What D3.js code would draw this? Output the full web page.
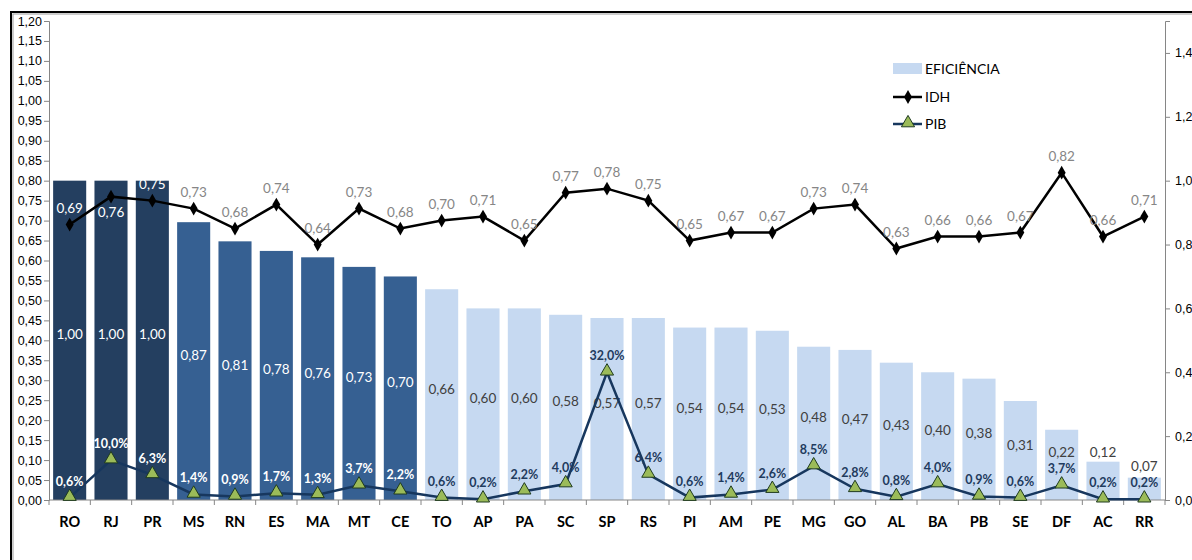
<!DOCTYPE html>
<html>
<head>
<meta charset="utf-8">
<script src="https://cdn.jsdelivr.net/npm/d3@7"></script>
<style>
  body { margin: 0; background: #fff; overflow: hidden; }
  svg { display: block; font-family: Lato, "Open Sans", sans-serif; }
</style>
</head>
<body>
<div id="chart"></div>
<script>
const states = ["RO","RJ","PR","MS","RN","ES","MA","MT","CE","TO","AP","PA","SC","SP","RS","PI","AM","PE","MG","GO","AL","BA","PB","SE","DF","AC","RR"];
const eficiencia = [1.00,1.00,1.00,0.87,0.81,0.78,0.76,0.73,0.70,0.66,0.60,0.60,0.58,0.57,0.57,0.54,0.54,0.53,0.48,0.47,0.43,0.40,0.38,0.31,0.22,0.12,0.07];
const idh = [0.69,0.76,0.75,0.73,0.68,0.74,0.64,0.73,0.68,0.70,0.71,0.65,0.77,0.78,0.75,0.65,0.67,0.67,0.73,0.74,0.63,0.66,0.66,0.67,0.82,0.66,0.71];
const pib = [0.6,10.0,6.3,1.4,0.9,1.7,1.3,3.7,2.2,0.6,0.2,2.2,4.0,32.0,6.4,0.6,1.4,2.6,8.5,2.8,0.8,4.0,0.9,0.6,3.7,0.2,0.2];
const leftTicks = d3.range(0, 1.2001, 0.05);
const rightTicks = d3.range(0, 1.4001, 0.2);
const idhBelow = new Set(["RJ"]);

const W = 1192, H = 560;
const mLeft = 49, mRight = 1165, mTop = 21, mBottom = 500;

const svg = d3.select("#chart").append("svg")
    .attr("width", W)
    .attr("height", H);

// frame
svg.append("rect")
    .attr("x", 11).attr("y", 12)
    .attr("width", W + 20).attr("height", H + 20)
    .attr("fill", "none").attr("stroke", "#000").attr("stroke-width", 2);
svg.append("rect")
    .attr("x", 13).attr("y", 14)
    .attr("width", W + 20).attr("height", H + 20)
    .attr("fill", "none").attr("stroke", "#9a9a9a").attr("stroke-width", 1);

const x = d3.scaleBand().domain(states).range([mLeft, mRight]).paddingInner(0.2).paddingOuter(0.1);
const yL = d3.scaleLinear().domain([0, 1.2]).range([mBottom, mTop]);
const yR = d3.scaleLinear().domain([0, 1.5]).range([mBottom, mTop]);
const fmt2 = d => d3.format(".2f")(d).replace(".", ",");
const fmt1 = d => d3.format(".1f")(d).replace(".", ",");
const fmtPct = d => fmt1(d) + "%";
const cx = d => x(d) + x.bandwidth() / 2;

function barColor(i) {
    if (i < 3) return "#243F60";
    if (i < 9) return "#366092";
    return "#C6D9F1";
}

// axes
const axL = svg.append("g")
    .attr("transform", `translate(${mLeft},0)`)
    .call(d3.axisLeft(yL).tickValues(leftTicks).tickFormat(fmt2).tickSize(5).tickPadding(2));
const axR = svg.append("g")
    .attr("transform", `translate(${mRight},0)`)
    .call(d3.axisRight(yR).tickValues(rightTicks).tickFormat(fmt1).tickSize(5).tickPadding(5));
[axL, axR].forEach(a => {
    a.select(".domain").attr("stroke", "#868686");
    a.selectAll(".tick line").attr("stroke", "#868686");
    a.selectAll(".tick text").attr("fill", "#000").style("font-size", "12.5px");
});

// bars
svg.append("g").selectAll("rect")
    .data(states)
    .join("rect")
    .attr("x", d => x(d))
    .attr("width", x.bandwidth())
    .attr("y", (d, i) => yR(eficiencia[i]))
    .attr("height", (d, i) => mBottom - yR(eficiencia[i]))
    .attr("fill", (d, i) => barColor(i));

// x axis line and ticks
const xg = svg.append("g");
xg.append("line")
    .attr("x1", mLeft).attr("x2", mRight)
    .attr("y1", mBottom).attr("y2", mBottom)
    .attr("stroke", "#868686");
xg.selectAll("line.tk")
    .data(d3.range(states.length + 1))
    .join("line")
    .attr("class", "tk")
    .attr("x1", i => mLeft + i * x.step()).attr("x2", i => mLeft + i * x.step())
    .attr("y1", mBottom).attr("y2", mBottom + 5)
    .attr("stroke", "#868686");
xg.selectAll("text")
    .data(states)
    .join("text")
    .attr("x", cx)
    .attr("y", 527)
    .attr("text-anchor", "middle")
    .style("font-size", "14.5px")
    .style("font-weight", "bold")
    .attr("fill", "#000")
    .text(d => d);

// bar labels
svg.append("g").selectAll("text")
    .data(states)
    .join("text")
    .attr("x", cx)
    .attr("y", (d, i) => {
        const t = yR(eficiencia[i]);
        const mid = (t + mBottom) / 2 - 6;
        return Math.min(mid, Math.max(452, t - 12)) + 5;
    })
    .attr("text-anchor", "middle")
    .style("font-size", "13.5px")
    .attr("fill", (d, i) => i < 9 ? "#fff" : "#404040")
    .text((d, i) => fmt2(eficiencia[i]));

// IDH line
const idhLine = d3.line().x(d => cx(d)).y((d, i) => yL(idh[i]));
svg.append("path")
    .datum(states)
    .attr("d", idhLine)
    .attr("fill", "none")
    .attr("stroke", "#000")
    .attr("stroke-width", 2.5);
svg.append("g").selectAll("path")
    .data(states)
    .join("path")
    .attr("transform", (d, i) => `translate(${cx(d)},${yL(idh[i])})`)
    .attr("d", d3.symbol(d3.symbolDiamond, 55))
    .attr("fill", "#000");
svg.append("g").selectAll("text")
    .data(states)
    .join("text")
    .attr("x", cx)
    .attr("y", (d, i) => yL(idh[i]) + (idhBelow.has(d) ? 20 : -12))
    .attr("text-anchor", "middle")
    .style("font-size", "13.5px")
    .attr("fill", (d, i) => i < 3 ? "#fff" : "#868686")
    .text((d, i) => fmt2(idh[i]));

// PIB line
const pibLine = d3.line().x(d => cx(d)).y((d, i) => yL(pib[i] / 100));
svg.append("path")
    .datum(states)
    .attr("d", pibLine)
    .attr("fill", "none")
    .attr("stroke", "#17375E")
    .attr("stroke-width", 2.5);
svg.append("g").selectAll("path")
    .data(states)
    .join("path")
    .attr("transform", (d, i) => `translate(${cx(d)},${yL(pib[i] / 100) - 1})`)
    .attr("d", d3.symbol(d3.symbolTriangle, 75))
    .attr("fill", "#9BBB59")
    .attr("stroke", "#1F3B1F")
    .attr("stroke-width", 1);
svg.append("g").selectAll("text")
    .data(states)
    .join("text")
    .attr("x", cx)
    .attr("y", (d, i) => yL(pib[i] / 100) - 12)
    .attr("text-anchor", "middle")
    .style("font-size", "12.5px")
    .style("font-weight", "bold")
    .attr("fill", (d, i) => i < 9 ? "#fff" : "#1F3B5E")
    .text((d, i) => fmtPct(pib[i]));

// legend
const lg = svg.append("g").attr("transform", "translate(893,0)");
lg.append("rect").attr("x", 0).attr("y", 63).attr("width", 29).attr("height", 11).attr("fill", "#C6D9F1");
lg.append("line").attr("x1", 0).attr("x2", 29).attr("y1", 97).attr("y2", 97).attr("stroke", "#000").attr("stroke-width", 2.5);
lg.append("path").attr("transform", "translate(15,97)").attr("d", d3.symbol(d3.symbolDiamond, 55)).attr("fill", "#000");
lg.append("line").attr("x1", 0).attr("x2", 29).attr("y1", 124).attr("y2", 124).attr("stroke", "#17375E").attr("stroke-width", 2.5);
lg.append("path").attr("transform", "translate(15,123)").attr("d", d3.symbol(d3.symbolTriangle, 75))
    .attr("fill", "#9BBB59").attr("stroke", "#1F3B1F");
lg.selectAll("text")
    .data(["EFICIÊNCIA", "IDH", "PIB"])
    .join("text")
    .attr("x", 32)
    .attr("y", (d, i) => 74 + i * 27.5)
    .style("font-size", "14px")
    .attr("fill", "#000")
    .text(d => d);
</script>
</body>
</html>
